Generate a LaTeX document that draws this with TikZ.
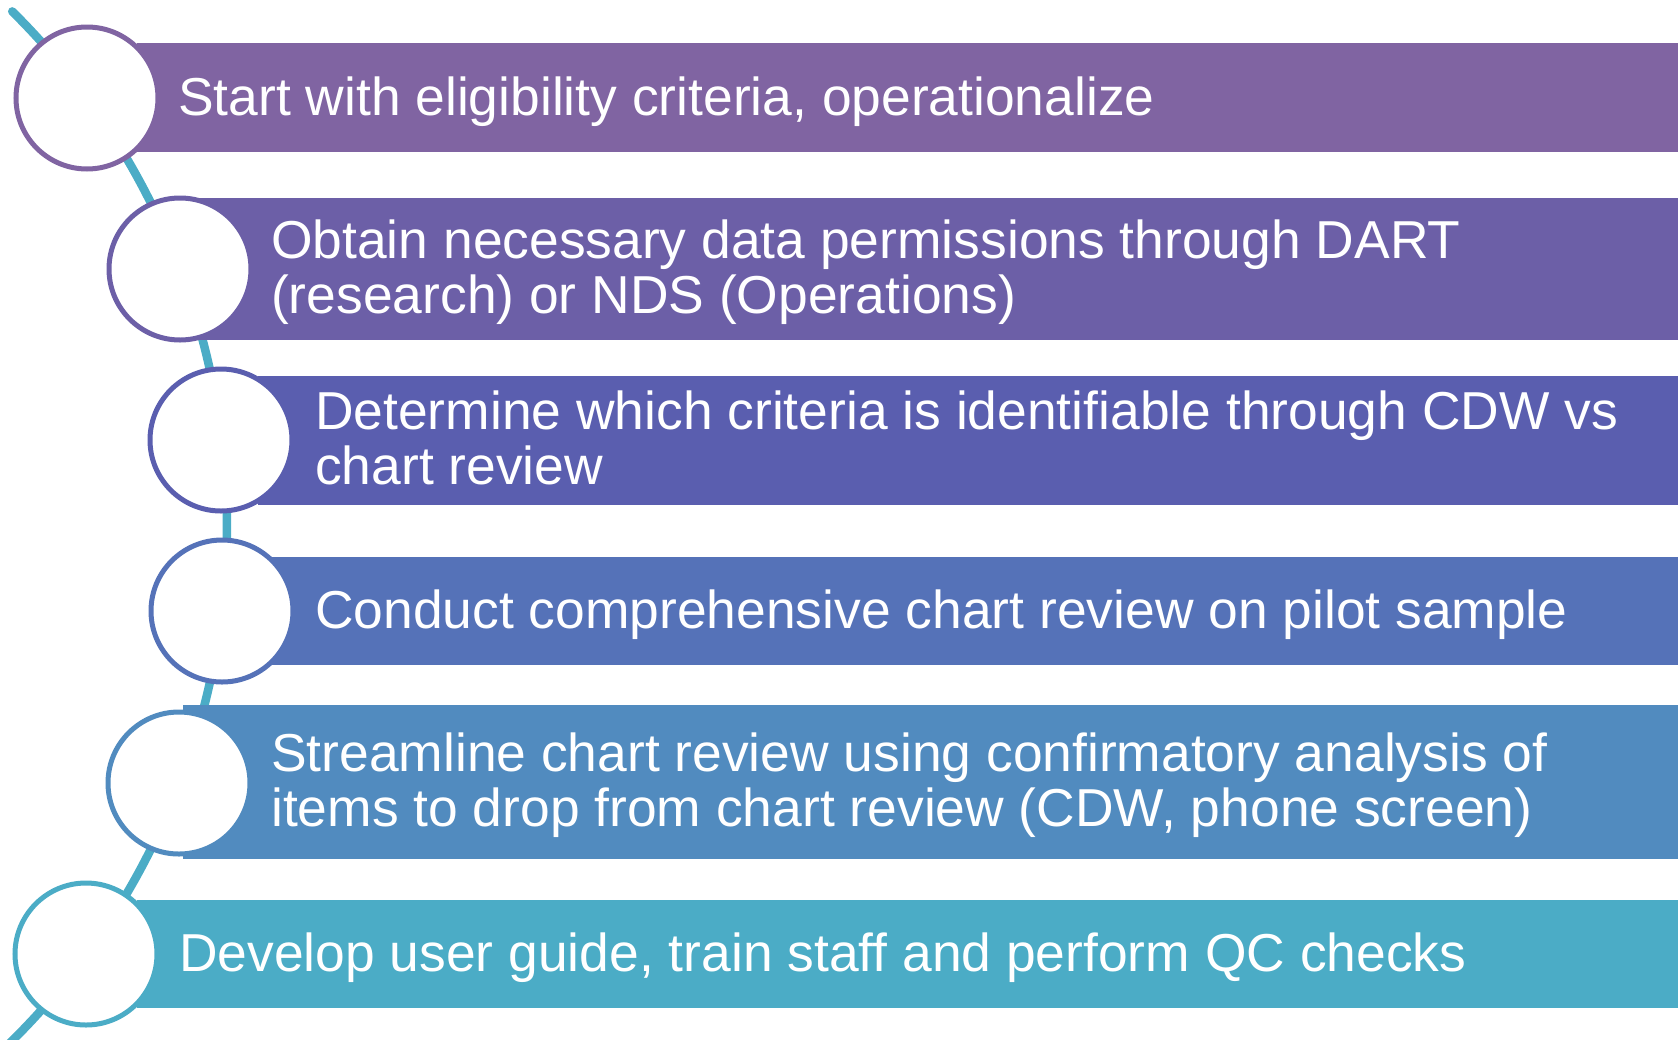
\documentclass[tikz,border=0pt]{standalone}
\usepackage{fontspec}
\setmainfont{Liberation Sans}
\usetikzlibrary{calc}
\definecolor{colA}{HTML}{8064A2}
\definecolor{colB}{HTML}{6C5FA7}
\definecolor{colC}{HTML}{5A5EAF}
\definecolor{colD}{HTML}{5572B8}
\definecolor{colE}{HTML}{518BBF}
\definecolor{colF}{HTML}{4BACC6}
\definecolor{linec}{HTML}{4BACC6}
\begin{document}
\begin{tikzpicture}[x=1pt,y=-1pt,
  barbox/.style={rectangle, draw=none, inner sep=0pt, anchor=north west},
  circ/.style={circle, fill=white, line width=5pt, minimum size=142pt, inner sep=0pt},
  txt/.style={text=white, anchor=base west, align=left, inner sep=0pt, font=\fontsize{53.4}{55}\selectfont},
  spine/.style={line width=8.5pt, draw=linec, line cap=round}]
\useasboundingbox (0,0) rectangle (1680,1039);
\clip (0,0) rectangle (1680,1039);
\coordinate (arcc) at (-497,526);
\draw[spine] ($(arcc)+(-45.3:724)$) arc[start angle=-45.3, end angle=47, radius=724];
% bars
\node[barbox, fill=colA, minimum width=1541pt, minimum height=109pt] (b1) at (137,43) {};
\node[barbox, fill=colB, minimum width=1478pt, minimum height=142pt] (b2) at (200,198) {};
\node[barbox, fill=colC, minimum width=1420pt, minimum height=129pt] (b3) at (258,376) {};
\node[barbox, fill=colD, minimum width=1416pt, minimum height=108pt] (b4) at (262,557) {};
\node[barbox, fill=colE, minimum width=1495pt, minimum height=154pt] (b5) at (183,705) {};
\node[barbox, fill=colF, minimum width=1541pt, minimum height=108pt] (b6) at (137,900) {};
% circles
\node[circ, draw=colA] (c1) at (87,98) {};
\node[circ, draw=colB] (c2) at (180,269) {};
\node[circ, draw=colC] (c3) at (221,440) {};
\node[circ, draw=colD] (c4) at (222,611) {};
\node[circ, draw=colE] (c5) at (179,783) {};
\node[circ, draw=colF] (c6) at (86,954) {};
% texts (base = baseline of last line)
\node[txt] (t1) at (178,115) {Start with eligibility criteria, operationalize};
\node[txt] (t2) at (271,313) {Obtain necessary data permissions through DART\\(research) or NDS (Operations)};
\node[txt] (t3) at (315,484) {Determine which criteria is identifiable through CDW vs\\chart review};
\node[txt] (t4) at (315,628.5) {Conduct comprehensive chart review on pilot sample};
\node[txt] (t5) at (271,826) {Streamline chart review using confirmatory analysis of\\items to drop from chart review (CDW, phone screen)};
\node[txt] (t6) at (179,971) {Develop user guide, train staff and perform QC checks};
\end{tikzpicture}
\end{document}
